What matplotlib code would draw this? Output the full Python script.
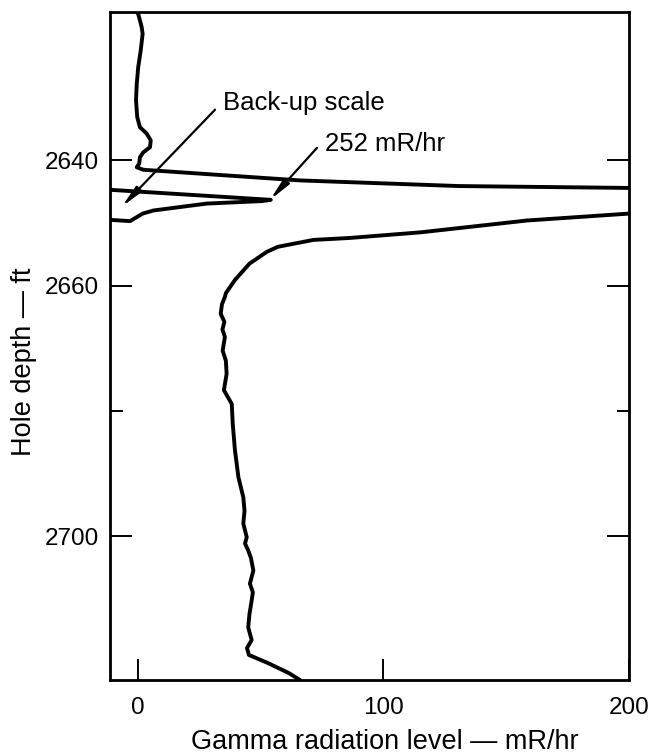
import matplotlib
matplotlib.use("Agg")
import matplotlib.pyplot as plt
from matplotlib.ticker import FixedLocator

plt.rcParams['font.family'] = ['Liberation Sans', 'DejaVu Sans']

# main trace above the anomaly (goes off scale to the right)
depth_a = [2616.4, 2616.6, 2618.7, 2619.8, 2622.5, 2625.1, 2627.8, 2630.4, 2633.1,
           2634.7, 2635.7, 2636.8, 2637.9, 2638.7, 2639.5, 2640.5, 2641.1, 2641.5,
           2643.2, 2644.1, 2644.4]
gamma_a = [-0.3, 0.1, 1.5, 1.9, 1.1, 0.1, -0.5, -0.8, -0.3,
           0.8, 3.5, 5.2, 4.9, 2.2, 0.8, 0.5, -0.5, 2.2,
           66.0, 130.7, 200.0]

# back-up scale trace (peak 252 mR/hr)
depth_b = [2644.7, 2646.3, 2646.5, 2646.9, 2648.0, 2648.5, 2649.7, 2649.5]
gamma_b = [-11.4, 54.1, 50.5, 28.0, 6.3, 1.9, -3.2, -11.4]

# main trace below the anomaly
depth_c = [2648.5, 2649.6, 2651.5, 2652.4, 2652.7, 2653.8, 2654.6, 2656.5, 2659.1,
           2661.2, 2661.8, 2663.0, 2664.5, 2665.8, 2667.0, 2668.2, 2670.4, 2672.0,
           2674.1, 2676.7, 2678.9, 2682.1, 2686.3, 2690.6, 2693.8, 2696.0, 2698.0,
           2700.2, 2701.2, 2702.3, 2703.5, 2705.5, 2707.6, 2709.0, 2710.3, 2712.5,
           2714.6, 2716.6, 2717.9, 2719.0, 2720.3, 2721.9, 2723.0]
gamma_c = [200.0, 158.5, 114.9, 85.9, 71.5, 57.0, 52.5, 45.4, 39.5,
           35.8, 35.4, 34.2, 33.7, 35.2, 34.4, 35.4, 34.5, 35.8,
           36.1, 35.0, 38.2, 38.6, 39.5, 40.9, 42.9, 43.4, 42.9,
           44.3, 43.6, 44.9, 46.0, 47.0, 45.6, 46.8, 46.3, 45.4,
           44.9, 46.3, 44.4, 45.2, 53.0, 61.5, 66.0]

major_depths = [2640, 2660, 2700]
minor_depths = [2680]
gamma_ticks = [0, 100, 200]

fig = plt.figure(figsize=(6.57, 7.55), dpi=100)
ax = fig.add_axes([0.1674, 0.0993, 0.79, 0.8848])

for g, d in [(gamma_a, depth_a), (gamma_b, depth_b), (gamma_c, depth_c)]:
    ax.plot(g, d, color='black', lw=2.8, solid_joinstyle='round', solid_capstyle='round')

ax.set_xlim(-11.4, 200)
ax.set_ylim(2723.0, 2616.3)

ax.xaxis.set_major_locator(FixedLocator(gamma_ticks))
ax.yaxis.set_major_locator(FixedLocator(major_depths))
ax.yaxis.set_minor_locator(FixedLocator(minor_depths))

ax.tick_params(axis='y', which='major', direction='in', length=16, width=1.4,
               left=True, right=True, labelsize=17.5, pad=8)
ax.tick_params(axis='y', which='minor', direction='in', length=9, width=1.4,
               left=True, right=True)
ax.tick_params(axis='x', which='major', direction='in', length=15, width=1.4,
               bottom=True, top=False, labelsize=17.5, pad=12)

for s in ax.spines.values():
    s.set_linewidth(2.0)

ax.set_xlabel('Gamma radiation level — mR/hr', fontsize=19.5)
ax.xaxis.set_label_coords(0.53, -0.074)
ax.set_ylabel('Hole depth — ft', fontsize=19.5)
ax.yaxis.set_label_coords(-0.14, 0.476)

arrow = dict(arrowstyle='-|>,head_length=1.3,head_width=0.22', color='black',
             lw=1.6, shrinkA=0, shrinkB=0)
ax.annotate('', xy=(-6.6, 2647.4), xytext=(31.4, 2631.9), arrowprops=arrow)
ax.text(34.6, 2630.8, 'Back-up scale', fontsize=18.5, ha='left', va='center')
ax.annotate('', xy=(53.8, 2646.3), xytext=(72.9, 2638.0), arrowprops=arrow)
ax.text(76.2, 2637.4, '252 mR/hr', fontsize=18.5, ha='left', va='center')

fig.savefig('out.png', dpi=100)
